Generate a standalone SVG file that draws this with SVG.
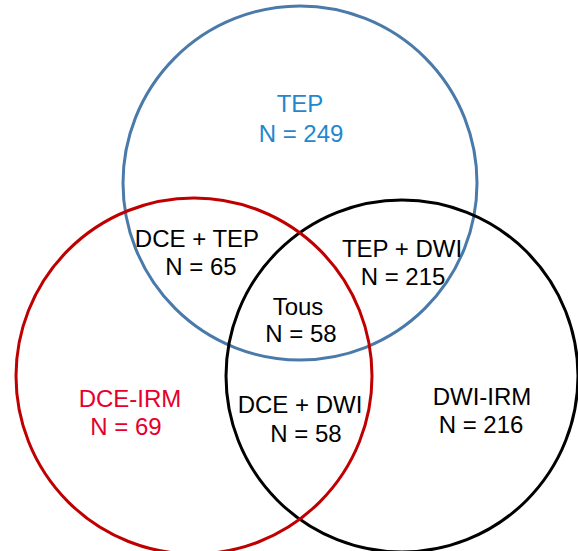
<svg xmlns="http://www.w3.org/2000/svg" width="578" height="551" viewBox="0 0 578 551">
<style>
.c{fill:none;stroke-width:3}
text{font-family:"Liberation Sans",Arial,sans-serif;font-size:24px;text-anchor:middle;fill:#000}
.b{fill:#1E88D0}
.r{fill:#E6002B}
</style>
<rect width="578" height="551" fill="#fff"/>
<g id="sets">
<circle id="tep-circle" class="c" cx="300" cy="183" r="177" stroke="#4A7AAA"/>
<circle id="dwi-circle" class="c" cx="402" cy="376" r="176" stroke="#000"/>
<circle id="dce-circle" class="c" cx="194" cy="376" r="178" stroke="#C00000"/>
</g>
<g id="tep"><text class="b" x="300" y="112">TEP</text><text class="b" x="301" y="142">N = 249</text></g>
<g id="dce-tep"><text x="197" y="247">DCE + TEP</text><text x="201" y="275">N = 65</text></g>
<g id="tep-dwi"><text x="402" y="257">TEP + DWI</text><text x="403" y="285">N = 215</text></g>
<g id="tous"><text x="298" y="315">Tous</text><text x="301" y="342">N = 58</text></g>
<g id="dce"><text class="r" x="130" y="407">DCE-IRM</text><text class="r" x="126" y="435">N = 69</text></g>
<g id="dce-dwi"><text x="300" y="413">DCE + DWI</text><text x="306" y="442">N = 58</text></g>
<g id="dwi"><text x="482" y="405">DWI-IRM</text><text x="481" y="433">N = 216</text></g>
</svg>
